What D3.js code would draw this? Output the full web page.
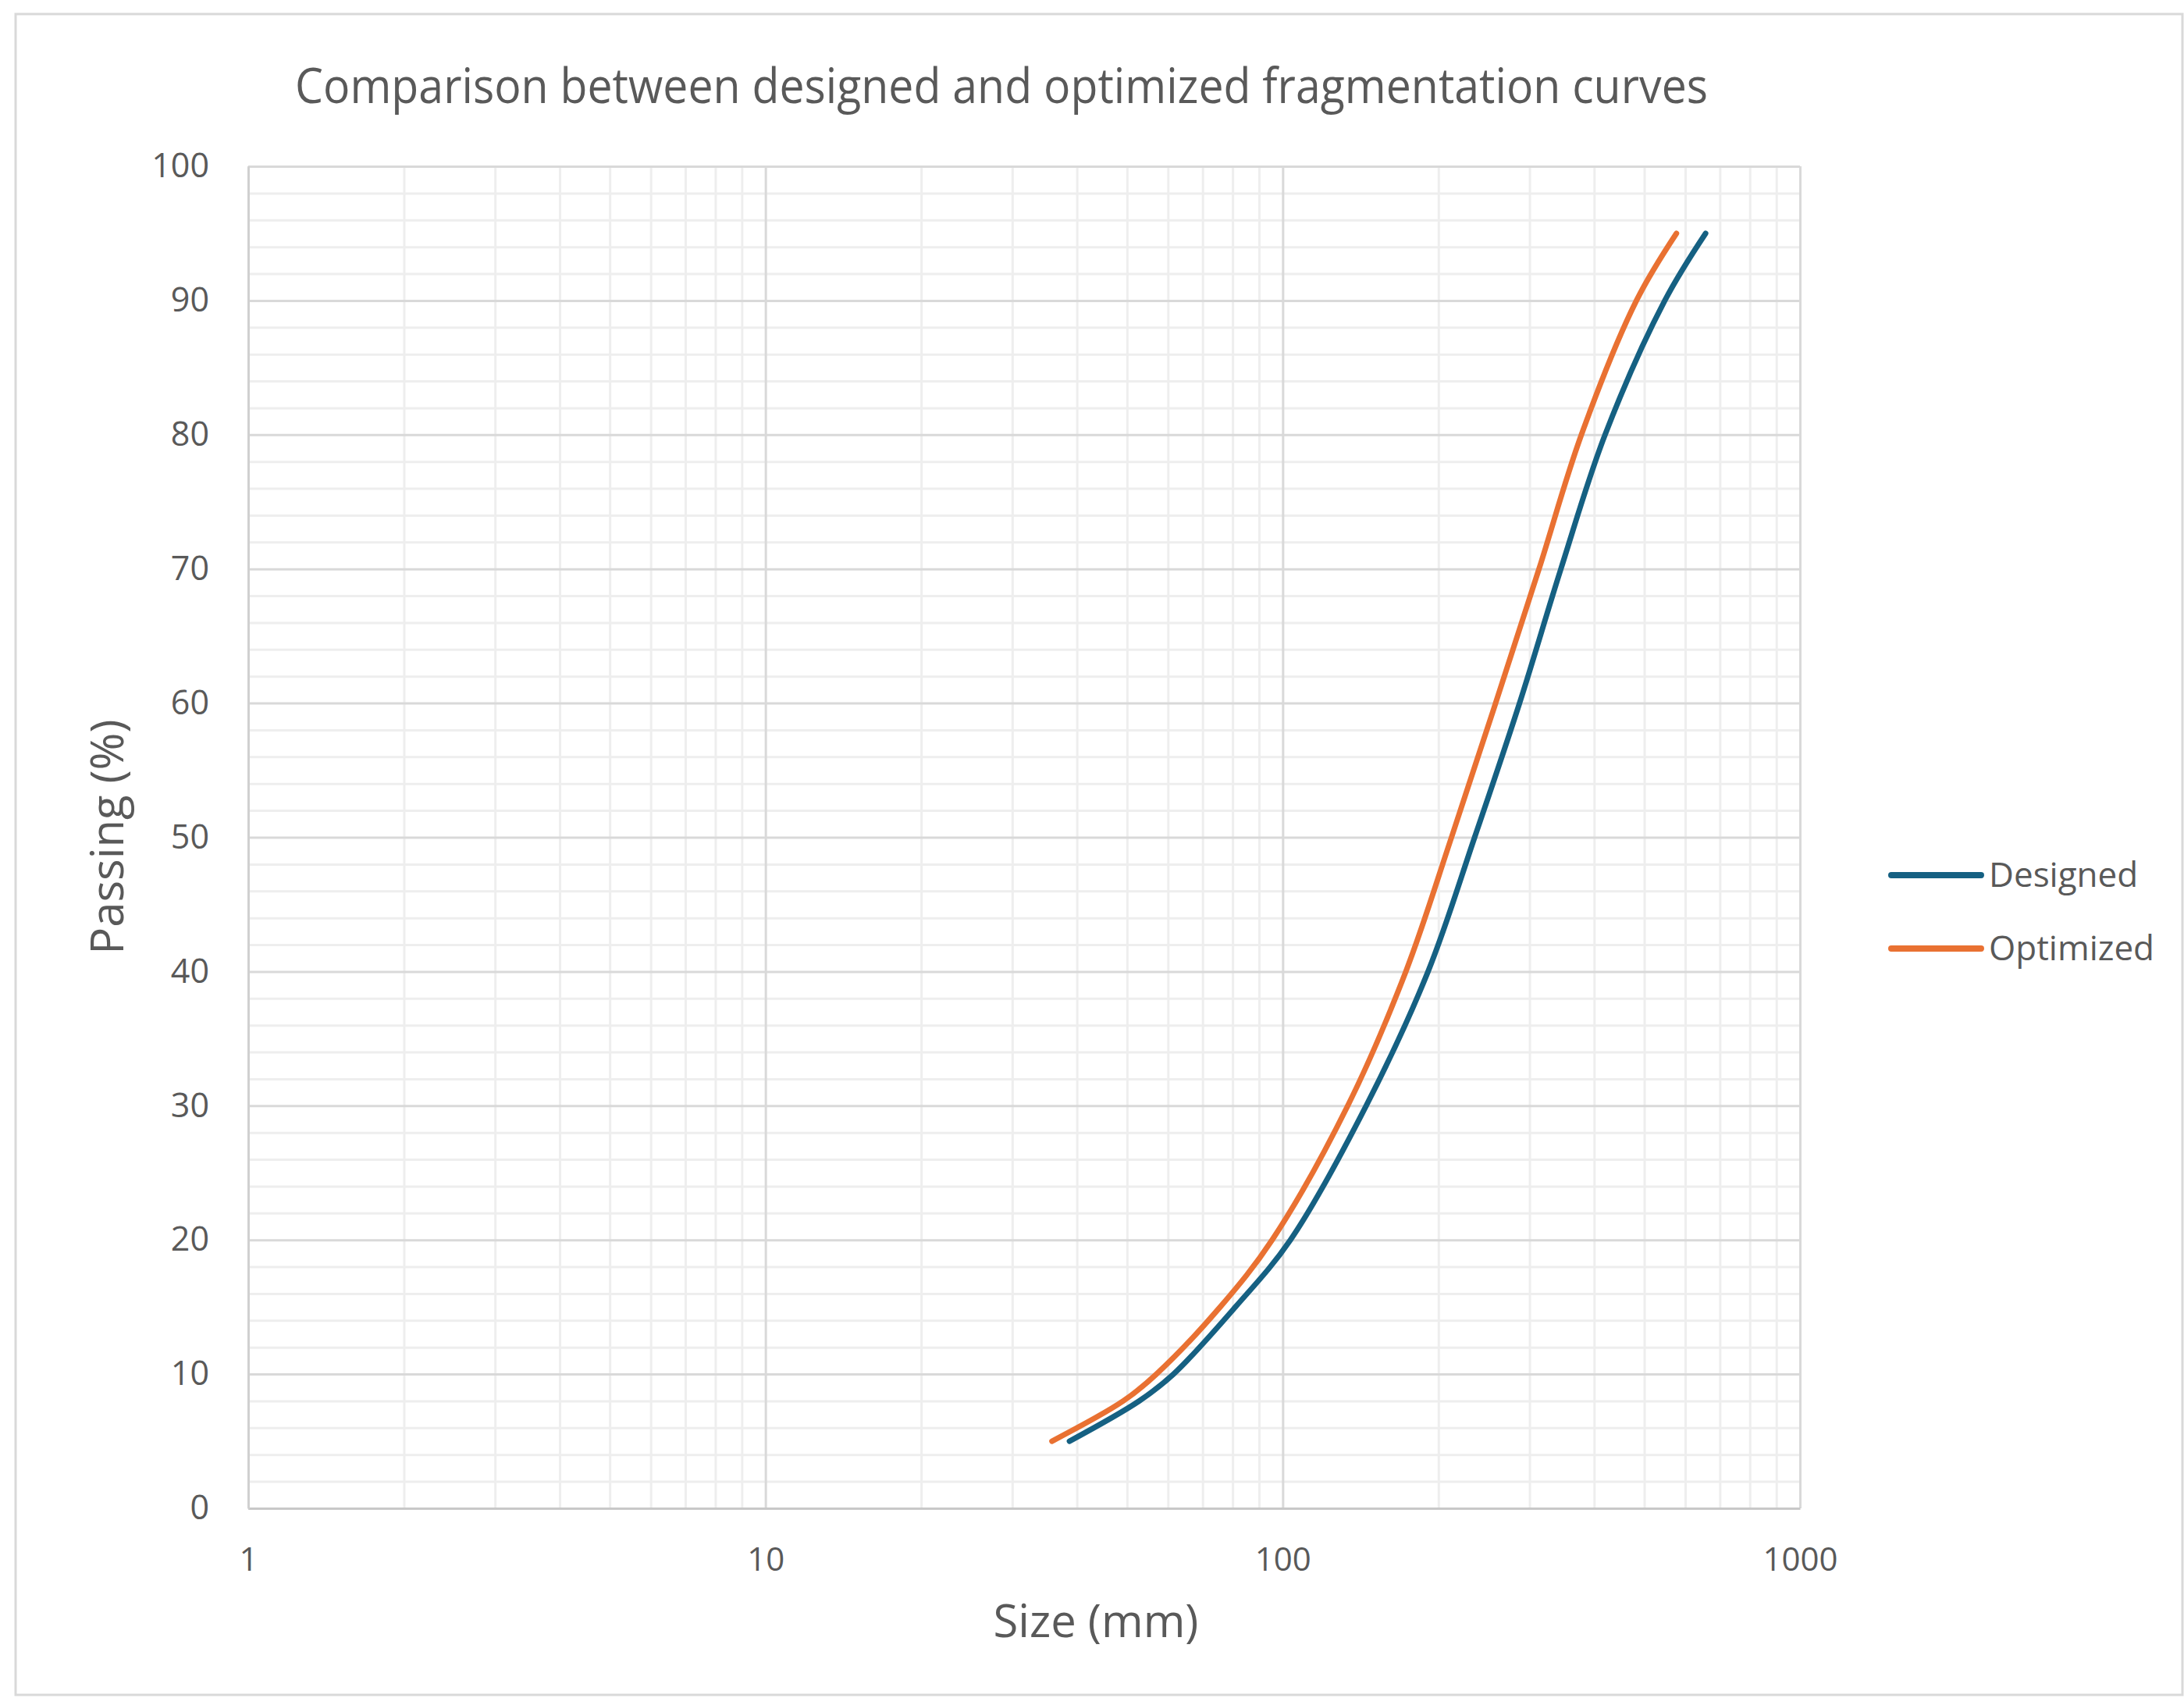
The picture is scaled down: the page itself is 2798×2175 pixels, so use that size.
<!DOCTYPE html>
<html>
<head>
<meta charset="utf-8">
<script src="https://cdn.jsdelivr.net/npm/d3@7"></script>
<style>
  body { margin: 0; background: #fff; }
  text { font-family: "Open Sans", "Noto Sans", sans-serif; fill: #595959; }
</style>
</head>
<body>
<div id="viz"></div>
<script>
const width = 2798;
const height = 2175;
const margins = { left: 318, right: 492, top: 213, bottom: 243 };
const visWidth = width - margins.left - margins.right;
const visHeight = height - margins.top - margins.bottom;

// passing percentages
const passing = [5, 8, 10, 15, 20, 30, 40, 50, 60, 70, 80, 90, 95];
// sizes (mm) for each passing value
const designed = [38.7, 52.8, 61.5, 81, 103.5, 145, 191, 235, 287, 345, 420, 548, 657];
const optimized = [35.8, 49.2, 57, 75.7, 95.4, 133.6, 173, 212, 258, 313, 378, 483, 577];

const seriesNames = ["Designed", "Optimized"];
const seriesColors = ["#156082", "#E97132"];
const xTicks = [1, 10, 100, 1000];
const yTicks = [0, 10, 20, 30, 40, 50, 60, 70, 80, 90, 100];

const series = [designed, optimized].map((sizes, i) => ({
    name: seriesNames[i],
    color: seriesColors[i],
    values: sizes.map((s, j) => ({ size: s, pass: passing[j] }))
}));

const root = d3.select('#viz')
    .append("svg")
    .attr('width', width)
    .attr('height', height);

// chart area border
root.append("rect")
    .attr("x", 20).attr("y", 18)
    .attr("width", width - 22).attr("height", height - 22)
    .attr("fill", "#fff")
    .attr("stroke", "#d9d9d9")
    .attr("stroke-width", 3);

const svg = root.append("g")
    .attr("transform", `translate(${margins.left}, ${margins.top})`);

const xScale = d3.scaleLog()
    .domain([1, 1000])
    .range([0, visWidth]);

const yScale = d3.scaleLinear()
    .domain([0, 100])
    .range([visHeight, 0]);

// minor grid
const minorX = [];
[1, 10, 100].forEach(d => { for (let k = 2; k <= 9; k++) minorX.push(d * k); });
const minorY = d3.range(0, 101, 2).filter(v => v % 10 !== 0);

svg.append("g")
    .attr("class", "grid-minor")
    .attr("transform", `translate(0, ${visHeight})`)
    .call(d3.axisBottom(xScale).tickValues(minorX).tickSize(-visHeight).tickFormat(""))
    .call(g => g.select(".domain").remove());

svg.append("g")
    .attr("class", "grid-minor")
    .call(d3.axisLeft(yScale).tickValues(minorY).tickSize(-visWidth).tickFormat(""))
    .call(g => g.select(".domain").remove());

svg.selectAll(".grid-minor line")
    .attr("stroke", "#eeeeee")
    .attr("stroke-width", 3);

// major grid
svg.append("g")
    .attr("class", "grid-major")
    .attr("transform", `translate(0, ${visHeight})`)
    .call(d3.axisBottom(xScale).tickValues(xTicks).tickSize(-visHeight).tickFormat(""))
    .call(g => g.select(".domain").remove());

svg.append("g")
    .attr("class", "grid-major")
    .call(d3.axisLeft(yScale).tickValues(yTicks).tickSize(-visWidth).tickFormat(""))
    .call(g => g.select(".domain").remove());

svg.selectAll(".grid-major line")
    .attr("stroke", "#d9d9d9")
    .attr("stroke-width", 3);

// axes with labels
const xAxis = svg.append("g")
    .attr("transform", `translate(0, ${visHeight})`)
    .call(d3.axisBottom(xScale).tickValues(xTicks).tickSize(0).tickPadding(50).tickFormat(d3.format("d")));
xAxis.select(".domain").attr("stroke", "#c8c8c8").attr("stroke-width", 3);
xAxis.selectAll("text").style("font-size", "42px").attr("fill", "#595959");

const yAxis = svg.append("g")
    .call(d3.axisLeft(yScale).tickValues(yTicks).tickSize(0).tickPadding(50));
yAxis.select(".domain").attr("stroke", "#d0d0d0").attr("stroke-width", 3);
yAxis.selectAll("text").style("font-size", "43px").attr("fill", "#595959");

// curves (smoothed like the spreadsheet line)
const line = d3.line()
    .x(d => xScale(d.size))
    .y(d => yScale(d.pass))
    .curve(d3.curveCatmullRom.alpha(0.5));

svg.selectAll(".curve")
    .data(series)
    .enter()
    .append("path")
    .attr("class", "curve")
    .attr("fill", "none")
    .attr("stroke", d => d.color)
    .attr("stroke-width", 7)
    .attr("stroke-linecap", "round")
    .attr("d", d => line(d.values));

// title
root.append("text")
    .attr("x", 1283).attr("y", 132)
    .attr("text-anchor", "middle")
    .attr("textLength", 1810)
    .attr("lengthAdjust", "spacingAndGlyphs")
    .style("font-size", "62px")
    .text("Comparison between designed and optimized fragmentation curves");

root.append("text")
    .attr("x", 1404).attr("y", 2097)
    .attr("text-anchor", "middle")
    .style("font-size", "58px")
    .text("Size (mm)");

root.append("text")
    .attr("transform", "translate(158, 1072) rotate(-90)")
    .attr("text-anchor", "middle")
    .style("font-size", "58px")
    .text("Passing (%)");

// legend
const legend = root.append("g")
    .attr("transform", "translate(2423, 1121)");

const items = legend.selectAll("g")
    .data(series)
    .enter()
    .append("g")
    .attr("transform", (d, i) => `translate(0, ${i * 94})`);

items.append("line")
    .attr("x1", 0).attr("x2", 115)
    .attr("stroke", d => d.color)
    .attr("stroke-width", 8)
    .attr("stroke-linecap", "round");

items.append("text")
    .attr("x", 125).attr("y", 15)
    .style("font-size", "44px")
    .text(d => d.name);
</script>
</body>
</html>
